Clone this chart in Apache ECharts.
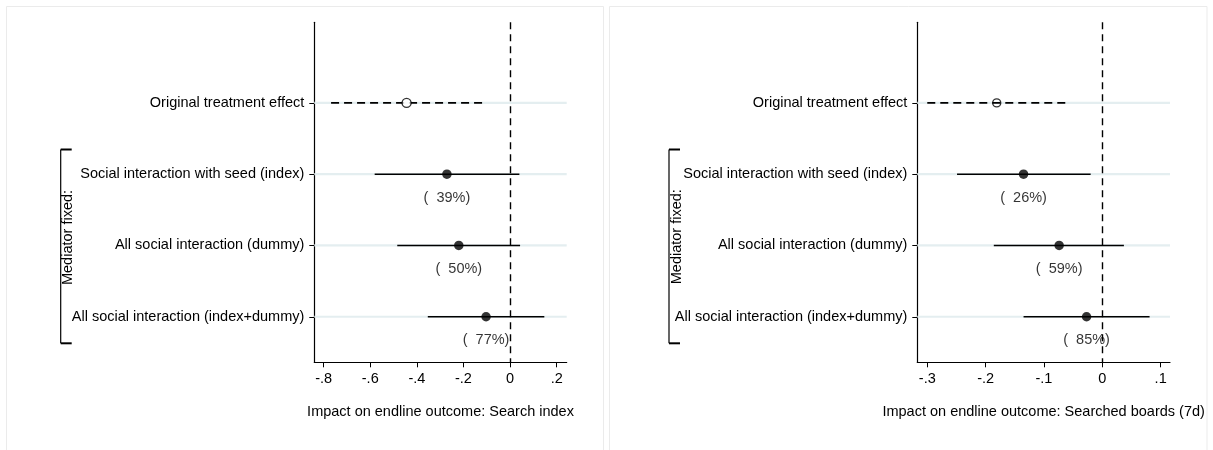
<!DOCTYPE html>
<html>
<head>
<meta charset="utf-8">
<script src="https://cdn.jsdelivr.net/npm/echarts@6/dist/echarts.min.js"></script>
<style>
html,body{margin:0;padding:0;background:#fff;}
#chart{width:1213px;height:450px;}
</style>
</head>
<body>
<div id="chart"></div>
<script>
// ---- data ----
const categories = ['Original treatment effect','Social interaction with seed (index)','All social interaction (dummy)','All social interaction (index+dummy)'];
const rowPos = [1, 2, 3, 4];

const leftEst = [-0.444, -0.271, -0.220, -0.103];
const leftLo  = [-0.768, -0.581, -0.484, -0.353];
const leftHi  = [-0.117,  0.040,  0.043,  0.147];
const leftPct = [null, 39, 50, 77];
const leftTicks = [-0.8, -0.6, -0.4, -0.2, 0, 0.2];
const leftTickLabels = ['-.8', '-.6', '-.4', '-.2', '0', '.2'];
const leftTitle = 'Impact on endline outcome: Search index';

const rightEst = [-0.181, -0.135, -0.074, -0.027];
const rightLo  = [-0.300, -0.249, -0.186, -0.135];
const rightHi  = [-0.063, -0.020,  0.037,  0.081];
const rightPct = [null, 26, 59, 85];
const rightTicks = [-0.3, -0.2, -0.1, 0, 0.1];
const rightTickLabels = ['-.3', '-.2', '-.1', '0', '.1'];
const rightTitle = 'Impact on endline outcome: Searched boards (7d)';

const bracketLabel = 'Mediator fixed:';

// ---- chart ----
const FONT = '"Liberation Sans", Arial, Helvetica, sans-serif';
const FS = 14.5;
const chart = echarts.init(document.getElementById('chart'));

function xAxisFor(gi, min, max, ticks, labels, title) {
  return {
    type: 'value', gridIndex: gi, min: min, max: max,
    axisLine: {show: true, onZero: false, lineStyle: {color: '#000', width: 1.2}},
    axisTick: {show: true, customValues: ticks, length: 5, lineStyle: {color: '#000', width: 1}},
    axisLabel: {show: true, customValues: ticks, margin: 9,
      formatter: function (v) { const i = ticks.findIndex(t => Math.abs(t - v) < 1e-9); return i >= 0 ? labels[i] : ''; },
      color: '#000', fontFamily: FONT, fontSize: FS},
    splitLine: {show: false},
    name: title, nameLocation: 'middle', nameGap: 42,
    nameTextStyle: {color: '#000', fontFamily: FONT, fontSize: FS}
  };
}
function yAxisFor(gi) {
  return {
    type: 'value', gridIndex: gi, inverse: true, min: -0.131, max: 4.639,
    axisLine: {show: true, onZero: false, lineStyle: {color: '#000', width: 1.2}},
    axisTick: {show: true, customValues: rowPos, length: 5, lineStyle: {color: '#000', width: 1}},
    axisLabel: {show: true, customValues: rowPos, margin: 10,
      formatter: function (v) { const i = rowPos.indexOf(Math.round(v)); return i >= 0 ? categories[i] : ''; },
      color: '#000', fontFamily: FONT, fontSize: FS},
    splitLine: {show: false}
  };
}

function panelSeries(gi, est, lo, hi, pct, hollowSize) {
  const grid = {
    type: 'custom', xAxisIndex: gi, yAxisIndex: gi, z: 1, silent: true,
    data: rowPos.map(r => [0, r]),
    renderItem: function (params, api) {
      const p = api.coord([0, api.value(1)]);
      const cs = params.coordSys;
      return {type: 'line', shape: {x1: cs.x, y1: p[1], x2: cs.x + cs.width, y2: p[1]},
        style: {stroke: '#e4eef0', lineWidth: 2.2}};
    }
  };
  const ci = {
    type: 'custom', xAxisIndex: gi, yAxisIndex: gi, z: 3, silent: true,
    data: rowPos.map((r, i) => [lo[i], hi[i], r]),
    renderItem: function (params, api) {
      const a = api.coord([api.value(0), api.value(2)]);
      const b = api.coord([api.value(1), api.value(2)]);
      const dashed = params.dataIndex === 0;
      return {type: 'line', shape: {x1: a[0], y1: a[1], x2: b[0], y2: b[1]},
        style: {stroke: '#000', lineWidth: 1.6, lineDash: dashed ? [8, 5] : null}};
    },
    markLine: {
      silent: true, symbol: 'none', label: {show: false},
      lineStyle: {color: '#000', type: [7, 5], width: 1.4},
      data: [{xAxis: 0}]
    }
  };
  const pts = {
    type: 'scatter', xAxisIndex: gi, yAxisIndex: gi, z: 5, silent: true,
    data: rowPos.map((r, i) => {
      if (i === 0) {
        return {value: [est[i], r], symbolSize: hollowSize,
          itemStyle: {color: gi === 0 ? '#fff' : 'rgba(255,255,255,0)', borderColor: '#000', borderWidth: 1.4}};
      }
      return {value: [est[i], r], symbolSize: 9.5, itemStyle: {color: '#000'}};
    })
  };
  const labs = {
    type: 'scatter', xAxisIndex: gi, yAxisIndex: gi, z: 4, silent: true,
    symbolSize: 0,
    data: rowPos.map((r, i) => ({value: [est[i], r], pct: pct[i]})).filter(d => d.pct !== null),
    label: {show: true, position: 'inside', offset: [0, 23.5],
      formatter: function (p) { return '(  ' + p.data.pct + '%)'; },
      color: '#000', fontFamily: FONT, fontSize: FS}
  };
  return [grid, ci, pts, labs];
}

function bracket(x, y1, y2, tx, ty) {
  return [
    {type: 'line', shape: {x1: x, y1: y1, x2: x, y2: y2}, style: {stroke: '#000', lineWidth: 1.2}},
    {type: 'line', shape: {x1: x, y1: y1, x2: x + 11, y2: y1}, style: {stroke: '#000', lineWidth: 2}},
    {type: 'line', shape: {x1: x, y1: y2, x2: x + 11, y2: y2}, style: {stroke: '#000', lineWidth: 2}},
    {type: 'text', x: tx, y: ty, rotation: Math.PI / 2,
      style: {text: bracketLabel, fill: '#000', font: FS + 'px ' + FONT, align: 'center', verticalAlign: 'middle'}}
  ];
}

const option = {
  backgroundColor: '#fff',
  animation: false,
  grid: [
    {left: 314.3, top: 22.3, width: 252.4, height: 340},
    {left: 917.3, top: 22.3, width: 252.7, height: 340}
  ],
  xAxis: [
    xAxisFor(0, -0.84, 0.243, leftTicks, leftTickLabels, leftTitle),
    xAxisFor(1, -0.3171, 0.116, rightTicks, rightTickLabels, rightTitle)
  ],
  yAxis: [yAxisFor(0), yAxisFor(1)],
  series: [].concat(
    panelSeries(0, leftEst, leftLo, leftHi, leftPct, 9),
    panelSeries(1, rightEst, rightLo, rightHi, rightPct, 8)
  ),
  graphic: [].concat(
    [
      {type: 'rect', shape: {x: 6.5, y: 6.5, width: 597, height: 450}, style: {fill: 'none', stroke: '#ebebeb', lineWidth: 1}, z: -10},
      {type: 'rect', shape: {x: 609.5, y: 6.5, width: 597.5, height: 450}, style: {fill: 'none', stroke: '#ebebeb', lineWidth: 1}, z: -10}
    ],
    bracket(60.7, 149.5, 343.3, 68.3, 237.5),
    bracket(669, 149.5, 343.3, 676.7, 236.7)
  )
};
chart.setOption(option);
</script>
</body>
</html>
